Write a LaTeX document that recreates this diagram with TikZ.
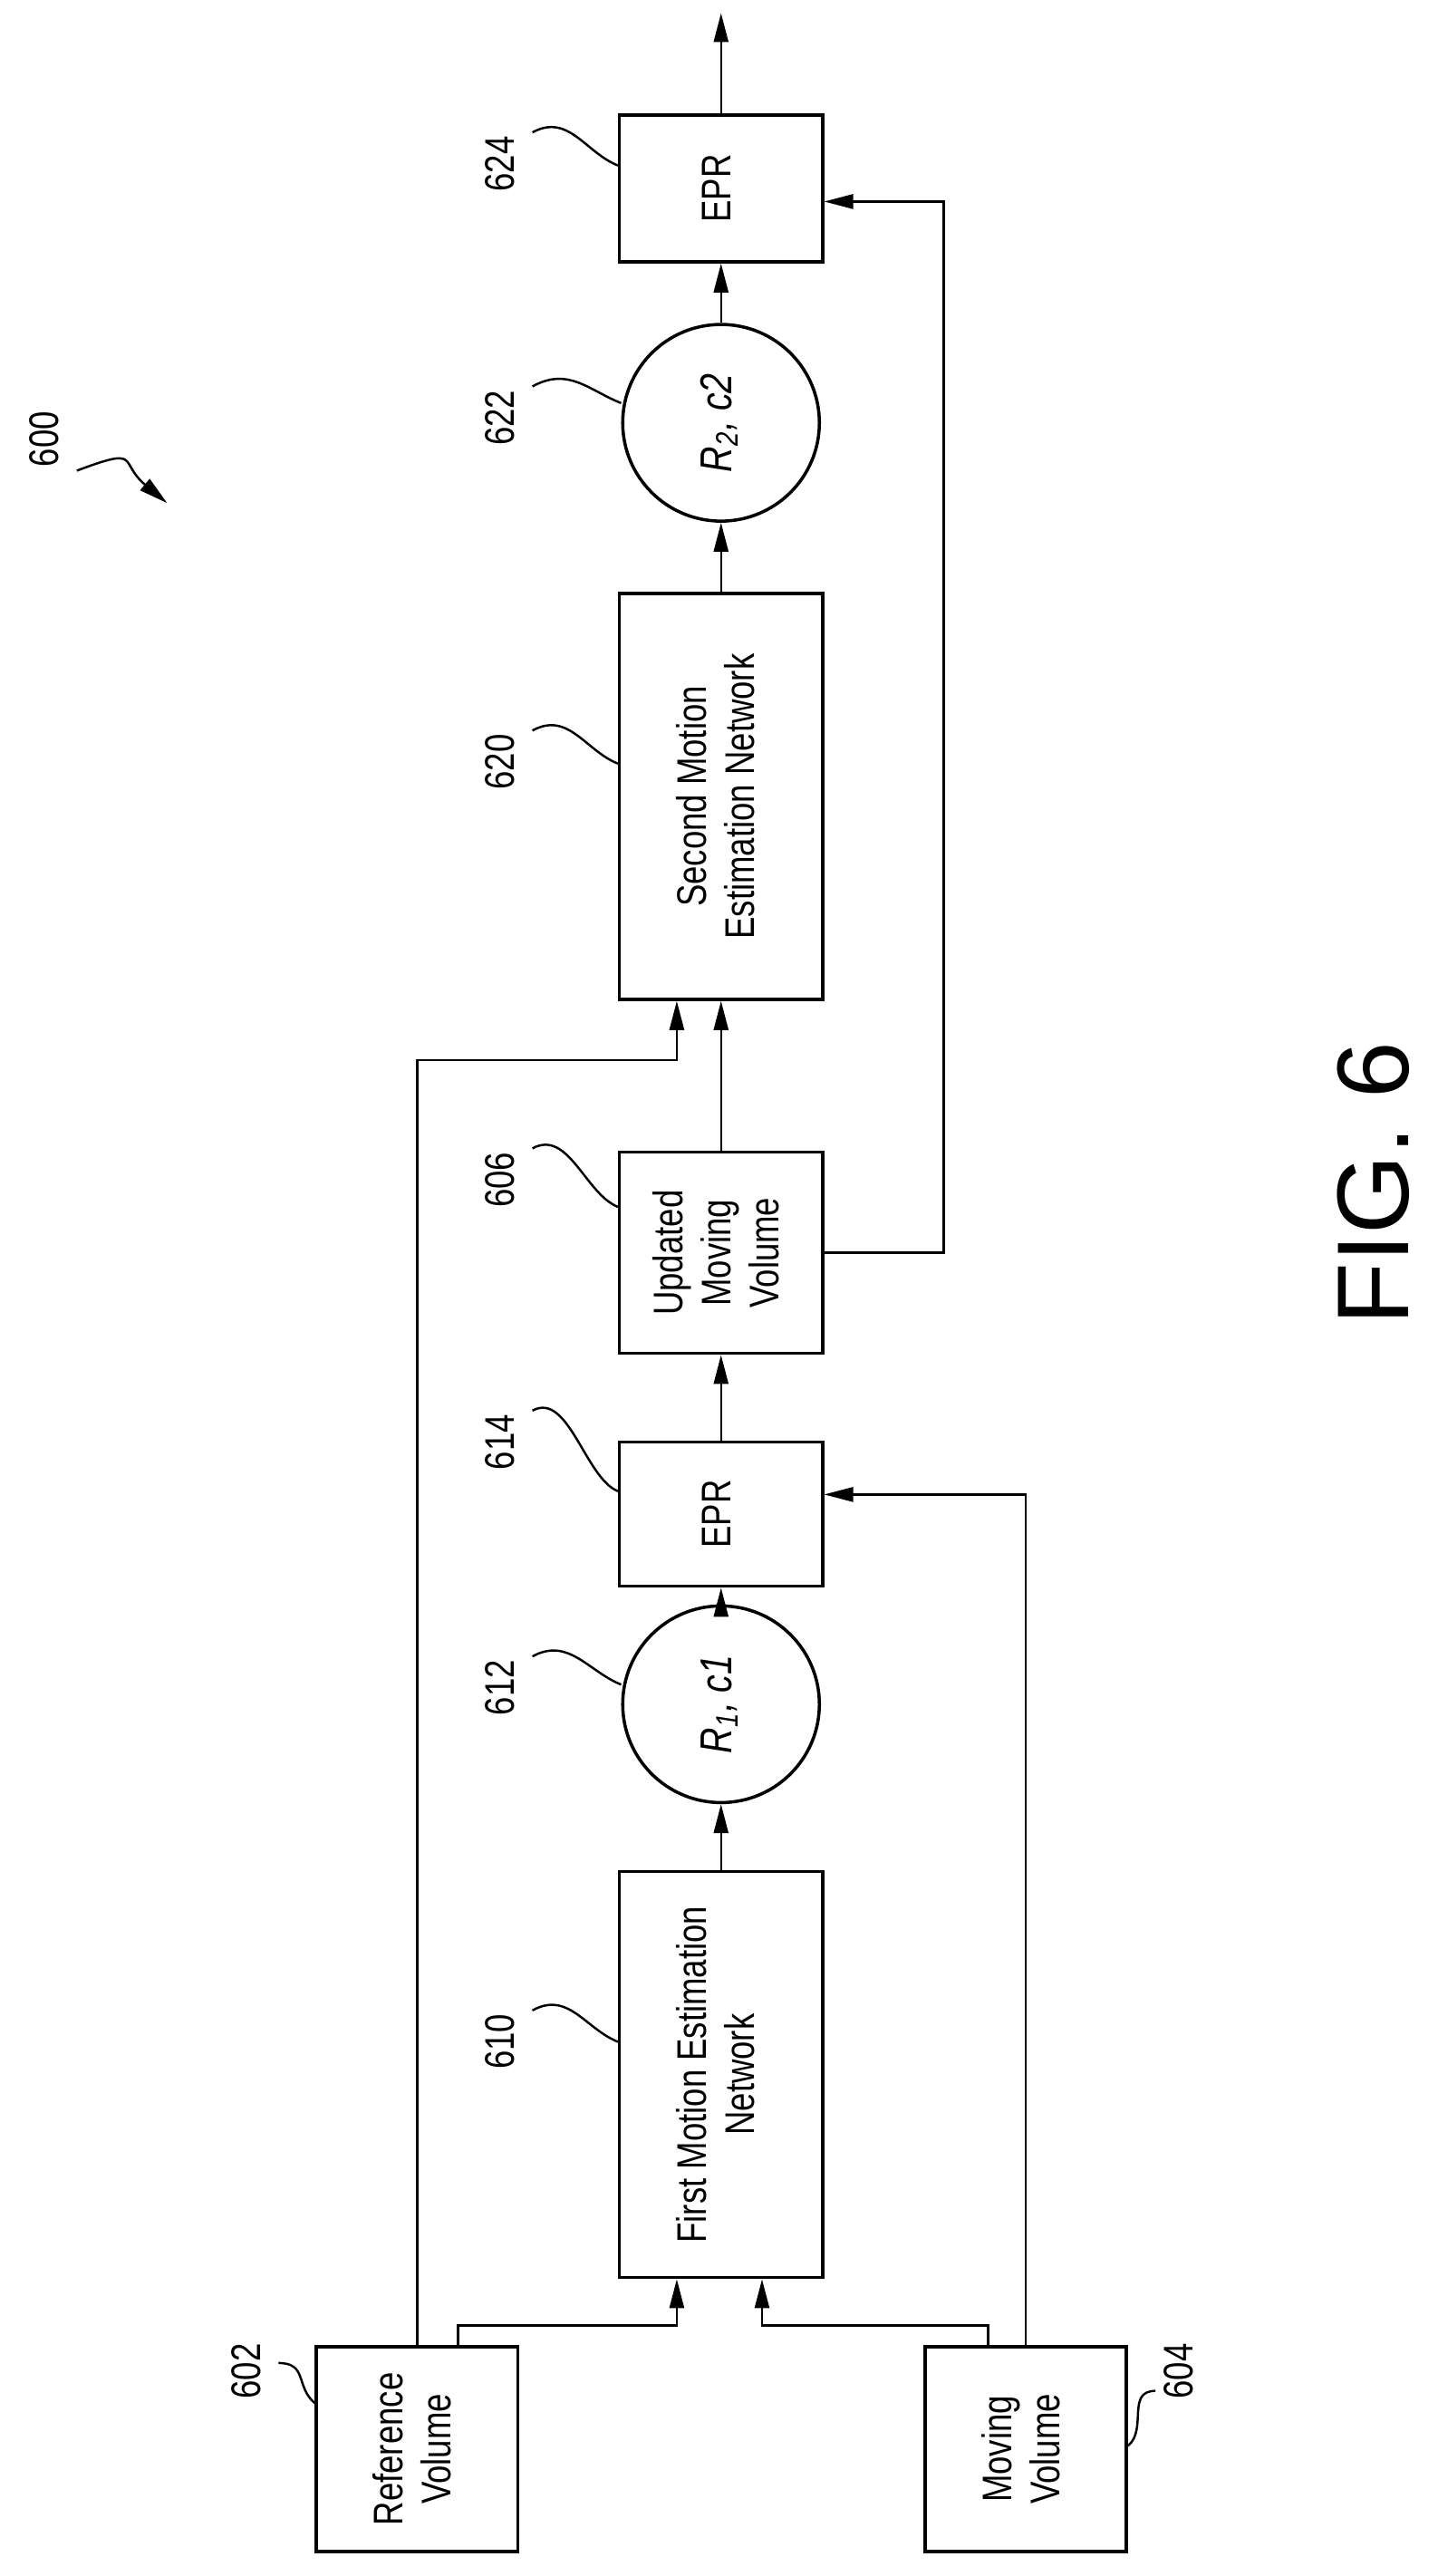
\documentclass[tikz,border=0pt]{standalone}
\usepackage{fontspec}
\setmainfont{Liberation Sans}[FakeStretch=0.8]
\newfontfamily\figfont{Liberation Sans}
\usetikzlibrary{arrows.meta,calc,shapes.geometric}
\tikzset{
    % node styles
    blk/.style={rectangle, draw, line width=1pt, inner sep=0pt, font=\fontsize{13}{15}\selectfont},
    rnd/.style={circle, draw, line width=1pt, inner sep=0pt, minimum size=2.17cm, font=\fontsize{14}{16}\selectfont},
    lbl/.style={inner sep=1pt, font=\fontsize{13}{15}\selectfont},
    arr/.style={-{Triangle[length=0.32cm,width=0.16cm]}, line width=0.7pt},
    lead/.style={line width=0.7pt}
}
\newcommand{\rt}[1]{\rotatebox{90}{\begin{tabular}{@{}c@{}}#1\end{tabular}}}
\begin{document}
\begin{tikzpicture}[x=0.01808cm, y=-0.01808cm]
\useasboundingbox (0,0) rectangle (877,1572);

% blocks
\node[blk, minimum width=2.22cm, minimum height=2.26cm] (ref) at (254.5,1494.5) {\rt{Reference\\Volume}};
\node[blk, minimum width=2.22cm, minimum height=2.26cm] (mov) at (626,1494.5) {\rt{Moving\\Volume}};
\node[blk, minimum width=2.24cm, minimum height=4.48cm] (fme) at (440,1266) {\rt{First Motion Estimation\\Network}};
\node[rnd] (c1) at (440,1040) {\rt{\itshape R\textsubscript{1}, c1}};
\node[blk, minimum width=2.24cm, minimum height=1.59cm] (epr1) at (440,924) {\rt{EPR}};
\node[blk, minimum width=2.24cm, minimum height=2.22cm] (upd) at (440,764.5) {\rt{Updated\\Moving\\Volume}};
\node[blk, minimum width=2.24cm, minimum height=4.48cm] (sme) at (440,486) {\rt{Second Motion\\Estimation Network}};
\node[rnd] (c2) at (440,258) {\rt{\itshape R\textsubscript{2}, c2}};
\node[blk, minimum width=2.24cm, minimum height=1.62cm] (epr2) at (440,115) {\rt{EPR}};
\coordinate (out) at (440,8);

% connectors
\draw[arr] (ref.north) -- ($(ref.north)+(0,-784)$) -| ($(sme.south)+(-27,0)$);
\draw[arr] ($(ref.north)+(25,0)$) -- ($(ref.north)+(25,-12)$) -| ($(fme.south)+(-27,0)$);
\draw[arr] ($(mov.north)+(-23,0)$) -- ($(mov.north)+(-23,-12)$) -| ($(fme.south)+(25,0)$);
\draw[arr] (mov.north) |- ($(epr1.east)+(0,-12)$);
\draw[arr] (fme) -- (c1);
\draw[arr] (c1) -- (epr1);
\draw[arr] (epr1) -- (upd);
\draw[arr] (upd) -- (sme);
\draw[arr] (sme) -- (c2);
\draw[arr] (c2) -- (epr2);
\draw[arr] (epr2) -- (out);
\draw[arr] (upd.east) -- ($(upd.east)+(73,0)$) |- ($(epr2.east)+(0,8)$);

% reference numerals
\node[lbl] (l602) at (153,1447) {\rt{602}};
\node[lbl] (l604) at (722,1447) {\rt{604}};
\node[lbl] (l610) at (308,1246) {\rt{610}};
\node[lbl] (l612) at (308,1030) {\rt{612}};
\node[lbl] (l614) at (308,880) {\rt{614}};
\node[lbl] (l606) at (308,720) {\rt{606}};
\node[lbl] (l620) at (308,465) {\rt{620}};
\node[lbl] (l622) at (308,255) {\rt{622}};
\node[lbl] (l624) at (308,100) {\rt{624}};
\node[lbl] (l600) at (30,268) {\rt{600}};
\draw[lead] ($(l602.east)+(0,-5)$) .. controls +(18,0) and +(-12,-10) .. ($(ref.west)+(0,-28)$);
\draw[lead] ($(l604.west)+(0,12)$) .. controls +(-18,0) and +(12,-10) .. ($(mov.east)+(0,-2)$);
\draw[lead] (l610.north east) .. controls +(22,-12) and +(-20,-8) .. ($(fme.west)+(0,-20)$);
\draw[lead] (l612.north east) .. controls +(22,-12) and +(-20,-8) .. ($(c1.west)+(0,-12)$);
\draw[lead] (l614.north east) .. controls +(22,-12) and +(-20,-8) .. ($(epr1.west)+(0,-14)$);
\draw[lead] (l606.north east) .. controls +(22,-12) and +(-20,-8) .. ($(upd.west)+(0,-28)$);
\draw[lead] (l620.north east) .. controls +(22,-12) and +(-20,-8) .. ($(sme.west)+(0,-20)$);
\draw[lead] (l622.north east) .. controls +(22,-12) and +(-20,-8) .. ($(c2.west)+(0,-12)$);
\draw[lead] (l624.north east) .. controls +(22,-12) and +(-20,-8) .. ($(epr2.west)+(0,-14)$);
\coordinate (p600) at (102,307);
\draw[arr] (l600.south east) .. controls +(40,-15) and +(-30,-25) .. (p600);

\node (fig) at (838,722) {\rotatebox{90}{\figfont\fontsize{32}{36}\selectfont FIG. 6}};
\end{tikzpicture}
\end{document}
